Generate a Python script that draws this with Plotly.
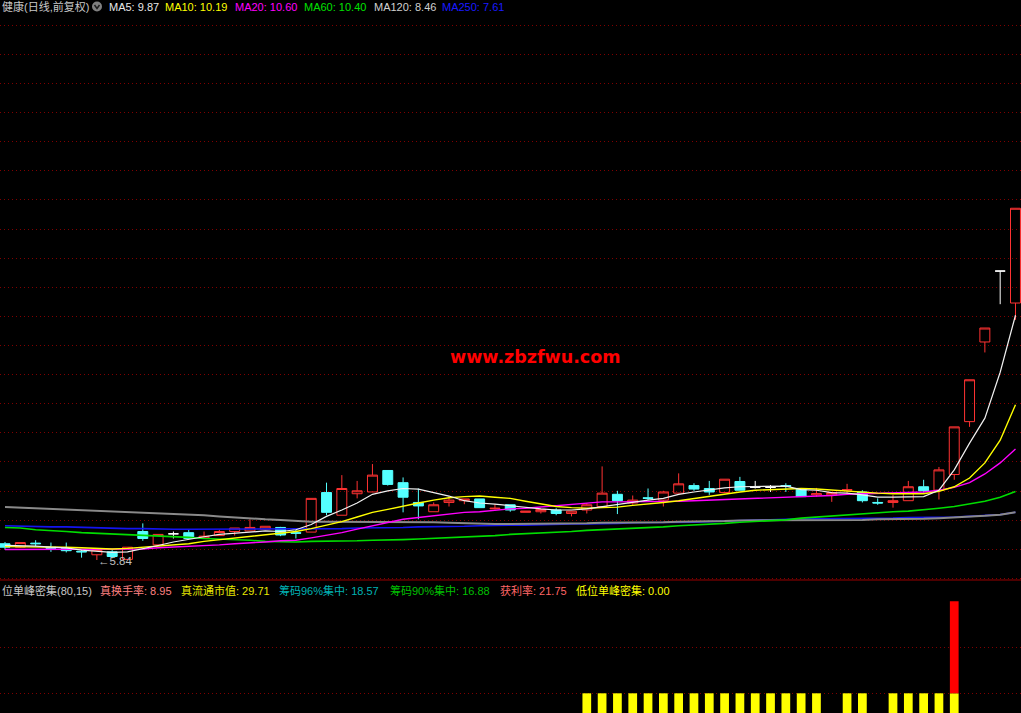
import plotly.graph_objects as go

# ---------------- data ----------------
days = list(range(67))

opens = [6.12, 6.06, 6.13, 6.06, 6.04, 5.99, 5.93, 5.98, 5.85, 6.33,
         6.10, 6.29, 6.31, 6.22, 6.26, 6.33, 6.34, 6.37, 6.40, 6.31,
         6.32, 7.00, 6.61, 6.98, 7.01, 7.38, 7.17, 6.83, 6.67, 6.83,
         6.86, 6.89, 6.72, 6.79, 6.66, 6.67, 6.70, 6.64, 6.70, 6.76,
         6.97, 6.82, 6.91, 6.87, 6.99, 7.12, 7.07, 7.00, 7.19, 7.09,
         7.09, 7.12, 7.07, 6.96, 6.96, 7.04, 7.01, 6.83, 6.83, 6.86,
         7.10, 7.04, 7.31, 8.22, 9.59, 10.81, 10.26]
highs = [6.15, 6.14, 6.18, 6.14, 6.14, 6.02, 6.02, 6.01, 6.06, 6.47,
         6.28, 6.33, 6.36, 6.33, 6.36, 6.39, 6.54, 6.42, 6.41, 6.36,
         6.90, 7.17, 7.30, 7.20, 7.49, 7.38, 7.26, 7.07, 6.83, 6.93,
         6.89, 6.89, 6.80, 6.79, 6.68, 6.71, 6.73, 6.68, 6.82, 7.45,
         7.03, 6.95, 7.07, 7.03, 7.33, 7.16, 7.20, 7.23, 7.27, 7.20,
         7.13, 7.16, 7.07, 7.08, 7.00, 7.15, 7.04, 6.90, 6.96, 7.20,
         7.22, 7.44, 8.13, 8.94, 9.83, 10.81, 11.89]
lows = [6.02, 6.05, 6.08, 5.98, 5.97, 5.88, 5.84, 5.87, 5.85, 6.17,
        6.10, 6.21, 6.21, 6.22, 6.26, 6.26, 6.34, 6.37, 6.25, 6.21,
        6.32, 6.61, 6.61, 6.90, 7.01, 7.12, 6.66, 6.54, 6.67, 6.76,
        6.80, 6.74, 6.71, 6.67, 6.66, 6.64, 6.61, 6.59, 6.64, 6.76,
        6.63, 6.79, 6.87, 6.76, 6.99, 7.03, 6.96, 7.00, 7.04, 7.07,
        7.01, 7.01, 6.93, 6.93, 6.84, 6.97, 6.83, 6.79, 6.74, 6.86,
        7.00, 6.88, 7.22, 8.13, 9.41, 10.24, 9.97]
closes = [6.06, 6.14, 6.12, 6.04, 6.00, 5.98, 6.02, 5.90, 6.06, 6.21,
          6.28, 6.29, 6.21, 6.25, 6.33, 6.39, 6.40, 6.42, 6.27, 6.30,
          6.90, 6.66, 7.07, 7.03, 7.30, 7.14, 6.92, 6.77, 6.79, 6.87,
          6.89, 6.74, 6.73, 6.70, 6.68, 6.71, 6.64, 6.68, 6.79, 6.99,
          6.86, 6.87, 6.90, 7.01, 7.15, 7.06, 7.01, 7.23, 7.04, 7.09,
          7.09, 7.11, 6.93, 6.98, 7.00, 7.05, 6.86, 6.82, 6.86, 7.10,
          7.03, 7.39, 8.13, 8.94, 9.83, 10.81, 11.89]
# u = rising (red hollow), d = falling (cyan solid), f = flat (white)
kinds = ['d', 'u', 'd', 'd', 'd', 'd', 'u', 'd', 'u', 'd',
         'u', 'f', 'd', 'u', 'u', 'u', 'u', 'u', 'd', 'd',
         'u', 'd', 'u', 'u', 'u', 'd', 'd', 'd', 'u', 'u',
         'u', 'd', 'u', 'd', 'u', 'u', 'd', 'u', 'u', 'u',
         'd', 'u', 'd', 'u', 'u', 'd', 'd', 'u', 'd', 'f',
         'f', 'd', 'd', 'u', 'u', 'u', 'd', 'd', 'u', 'u',
         'd', 'u', 'u', 'u', 'u', 'f', 'u']

ma5 = [6.09, 6.09, 6.08, 6.06, 6.05, 6.01, 5.99, 5.97, 5.98, 6.03,
       6.09, 6.15, 6.20, 6.24, 6.28, 6.30, 6.33, 6.34, 6.33, 6.36,
       6.45, 6.59, 6.70, 6.82, 6.97, 7.03, 7.07, 7.06, 7.00, 6.94,
       6.86, 6.82, 6.80, 6.77, 6.74, 6.72, 6.70, 6.70, 6.72, 6.76,
       6.80, 6.84, 6.87, 6.90, 6.97, 7.01, 7.05, 7.08, 7.10, 7.10,
       7.10, 7.11, 7.05, 7.04, 7.00, 6.99, 6.96, 6.92, 6.92, 6.92,
       6.93, 7.04, 7.39, 7.85, 8.28, 9.07, 10.05]
ma10 = [6.07, 6.07, 6.07, 6.06, 6.06, 6.05, 6.04, 6.03, 6.04, 6.06,
        6.08, 6.11, 6.12, 6.16, 6.19, 6.22, 6.24, 6.27, 6.30, 6.33,
        6.38, 6.44, 6.50, 6.58, 6.66, 6.71, 6.77, 6.82, 6.87, 6.91,
        6.93, 6.94, 6.92, 6.90, 6.85, 6.80, 6.76, 6.74, 6.73, 6.74,
        6.75, 6.78, 6.80, 6.83, 6.86, 6.90, 6.93, 6.98, 7.01, 7.04,
        7.05, 7.06, 7.07, 7.06, 7.04, 7.02, 7.00, 6.99, 6.98, 6.98,
        6.98, 7.02, 7.10, 7.25, 7.51, 7.90, 8.51]
ma20 = [6.02, 6.02, 6.02, 6.02, 6.02, 6.02, 6.02, 6.02, 6.02, 6.03,
        6.05, 6.06, 6.07, 6.08, 6.10, 6.12, 6.13, 6.15, 6.17, 6.18,
        6.22, 6.26, 6.31, 6.37, 6.43, 6.49, 6.54, 6.57, 6.60, 6.63,
        6.66, 6.67, 6.70, 6.72, 6.73, 6.75, 6.77, 6.79, 6.81, 6.84,
        6.84, 6.84, 6.84, 6.85, 6.85, 6.86, 6.87, 6.88, 6.89, 6.89,
        6.90, 6.91, 6.92, 6.93, 6.95, 6.97, 6.98, 6.99, 7.00, 7.00,
        7.01, 7.04, 7.09, 7.17, 7.32, 7.51, 7.75]
ma60 = [6.40, 6.39, 6.36, 6.35, 6.33, 6.31, 6.30, 6.28, 6.27, 6.27,
        6.25, 6.24, 6.23, 6.21, 6.20, 6.20, 6.18, 6.16, 6.15, 6.15,
        6.16, 6.16, 6.17, 6.17, 6.18, 6.18, 6.19, 6.20, 6.21, 6.22,
        6.23, 6.24, 6.26, 6.28, 6.29, 6.30, 6.31, 6.33, 6.35, 6.36,
        6.37, 6.38, 6.40, 6.41, 6.43, 6.44, 6.45, 6.47, 6.49, 6.50,
        6.51, 6.53, 6.56, 6.58, 6.60, 6.61, 6.63, 6.65, 6.67, 6.68,
        6.70, 6.73, 6.76, 6.80, 6.85, 6.92, 7.02]
ma120 = [6.75, 6.74, 6.73, 6.72, 6.71, 6.70, 6.69, 6.68, 6.67, 6.65,
         6.64, 6.64, 6.63, 6.61, 6.59, 6.57, 6.55, 6.54, 6.53, 6.51,
         6.50, 6.50, 6.50, 6.49, 6.49, 6.49, 6.49, 6.49, 6.49, 6.48,
         6.47, 6.46, 6.46, 6.46, 6.46, 6.46, 6.46, 6.47, 6.47, 6.48,
         6.48, 6.49, 6.49, 6.49, 6.50, 6.50, 6.51, 6.51, 6.52, 6.52,
         6.53, 6.53, 6.53, 6.53, 6.53, 6.53, 6.53, 6.54, 6.54, 6.55,
         6.55, 6.56, 6.57, 6.58, 6.60, 6.62, 6.66]
ma250 = [6.43, 6.42, 6.42, 6.41, 6.41, 6.40, 6.39, 6.39, 6.38, 6.38,
         6.37, 6.37, 6.37, 6.37, 6.37, 6.37, 6.37, 6.37, 6.37, 6.37,
         6.37, 6.37, 6.38, 6.39, 6.39, 6.40, 6.40, 6.41, 6.41, 6.42,
         6.42, 6.43, 6.44, 6.44, 6.44, 6.45, 6.45, 6.46, 6.46, 6.46,
         6.47, 6.48, 6.48, 6.48, 6.49, 6.49, 6.50, 6.51, 6.52, 6.52,
         6.53, 6.54, 6.55, 6.55, 6.55, 6.55, 6.56, 6.56, 6.56, 6.57,
         6.57, 6.57, 6.58, 6.59, 6.60, 6.62, 6.66]

# lower indicator panel
signal_low = [0, 0, 0, 0, 0, 0, 0, 0, 0, 0,
              0, 0, 0, 0, 0, 0, 0, 0, 0, 0,
              0, 0, 0, 0, 0, 0, 0, 0, 0, 0,
              0, 0, 0, 0, 0, 0, 0, 0, 1, 1,
              1, 1, 1, 1, 1, 1, 1, 1, 1, 1,
              1, 1, 1, 1, 0, 1, 1, 0, 1, 1,
              1, 1, 1, 0, 0, 0, 0]
signal_peak = [0, 0, 0, 0, 0, 0, 0, 0, 0, 0,
               0, 0, 0, 0, 0, 0, 0, 0, 0, 0,
               0, 0, 0, 0, 0, 0, 0, 0, 0, 0,
               0, 0, 0, 0, 0, 0, 0, 0, 0, 0,
               0, 0, 0, 0, 0, 0, 0, 0, 0, 0,
               0, 0, 0, 0, 0, 0, 0, 0, 0, 0,
               0, 0, 2, 0, 0, 0, 0]

title_text = "健康(日线,前复权)"
ma_labels = [("MA5: 9.87", "#e8e8e8"), ("MA10: 10.19", "#ffff00"),
             ("MA20: 10.60", "#ff00ff"), ("MA60: 10.40", "#00e000"),
             ("MA120: 8.46", "#d0d0d0"), ("MA250: 7.61", "#1a1aff")]
ind_labels = [("位单峰密集(80,15)", "#c8c8c8"), ("真换手率: 8.95", "#ff8080"),
              ("真流通市值: 29.71", "#e8e800"), ("筹码96%集中: 18.57", "#00b4b4"),
              ("筹码90%集中: 16.88", "#00c000"), ("获利率: 21.75", "#ff6666"),
              ("低位单峰密集: 0.00", "#ffff00")]
low_label = "←5.84"
watermark = "www.zbzfwu.com"

# ---------------- figure ----------------
W, H = 1021, 713
def px(x):
    return x / W
def py(y):
    return 1 - y / H

fig = go.Figure()

RED = "#ff3232"
CYAN = "#54ffff"
WHITE = "#ffffff"
TRANSP = "rgba(0,0,0,0)"

styles = {'u': (RED, TRANSP), 'd': (CYAN, CYAN), 'f': (WHITE, WHITE)}
for kind in ['u', 'd', 'f']:
    idx = [i for i, k in enumerate(kinds) if k == kind]
    lc, fc = styles[kind]
    fig.add_trace(go.Candlestick(
        x=[days[i] for i in idx],
        open=[opens[i] for i in idx], high=[highs[i] for i in idx],
        low=[lows[i] for i in idx], close=[closes[i] for i in idx],
        increasing=dict(line=dict(color=lc, width=1), fillcolor=fc),
        decreasing=dict(line=dict(color=lc, width=1), fillcolor=fc),
        whiskerwidth=0, xaxis='x', yaxis='y', showlegend=False, hoverinfo='skip'))

for vals, col, w in [(ma250, "#1414f0", 1.6), (ma120, "#8a8a8a", 2.0), (ma60, "#00dd00", 1.6),
                     (ma20, "#ff00ff", 1.4), (ma10, "#ffff00", 1.4), (ma5, "#f0f0f0", 1.2)]:
    fig.add_trace(go.Scatter(x=days, y=vals, mode='lines', line=dict(color=col, width=w),
                             xaxis='x', yaxis='y', showlegend=False, hoverinfo='skip'))

fig.add_trace(go.Bar(x=days, y=signal_low, base=0, width=0.57, marker=dict(color="#ffff00", line=dict(width=0)),
                     xaxis='x2', yaxis='y2', showlegend=False, hoverinfo='skip'))
fig.add_trace(go.Bar(x=days, y=signal_peak, base=signal_low, width=0.57, marker=dict(color="#ff0000", line=dict(width=0)),
                     xaxis='x2', yaxis='y2', showlegend=False, hoverinfo='skip'))

GRID = "#800000"
xr = [-0.327, 66.36]
fig.update_layout(
    width=W, height=H, margin=dict(l=0, r=0, t=0, b=0),
    paper_bgcolor="#000000", plot_bgcolor="#000000",
    showlegend=False, hovermode=False, barmode='overlay',
    boxgap=0.35, boxgroupgap=0,
    xaxis=dict(domain=[0, 1], range=xr, visible=False, rangeslider=dict(visible=False), anchor='y'),
    yaxis=dict(domain=[1 - 581 / H, 1], range=[5.4788, 15.472], showticklabels=False, ticks='',
               showgrid=True, gridcolor=GRID, gridwidth=1, griddash='1px,3px',
               tick0=6.024, dtick=0.5007, zeroline=False, showline=False, anchor='x'),
    xaxis2=dict(domain=[0, 1], range=xr, visible=False, anchor='y2'),
    yaxis2=dict(domain=[0, 1 - 583 / H], range=[0.572, 3.398], showticklabels=False, ticks='',
                tickvals=[1, 2], showgrid=True, gridcolor=GRID, gridwidth=1, griddash='1px,3px',
                zeroline=False, showline=False, anchor='x2'),
)

# panel separator
fig.add_shape(type='line', xref='paper', yref='paper', x0=0, x1=1, y0=py(580), y1=py(580),
              line=dict(color="#9a0000", width=1))
# dropdown icon
fig.add_shape(type='circle', xref='paper', yref='paper', x0=px(92), x1=px(102), y0=py(11.5), y1=py(1.5),
              fillcolor="#808080", line=dict(width=0))
fig.add_shape(type='path', xref='paper', yref='paper',
              path=f"M {px(94.5)} {py(5)} L {px(97)} {py(8.5)} L {px(99.5)} {py(5)}",
              line=dict(color="#1e1e1e", width=1.5))

FONT = "Liberation Sans, Noto Sans CJK SC, sans-serif"
ann = []
ann.append(dict(x=px(0), y=py(7), text=title_text, font=dict(family=FONT, size=11, color="#c8c8c8")))
for (t, c), x in zip(ma_labels, [107, 163, 233, 302, 372, 440]):
    ann.append(dict(x=px(x), y=py(7), text=t, font=dict(family=FONT, size=11, color=c)))
for (t, c), x in zip(ind_labels, [0, 98, 178.6, 276.8, 387.5, 497.8, 573.7]):
    ann.append(dict(x=px(x), y=py(590), text=t, font=dict(family=FONT, size=11, color=c)))
ann.append(dict(x=px(96), y=py(561), text=low_label, font=dict(family=FONT, size=11.5, color="#c0c0c0")))
for a in ann:
    a.update(xref='paper', yref='paper', xanchor='left', yanchor='middle', showarrow=False)
ann.append(dict(x=px(534.7), y=py(357), xref='paper', yref='paper', xanchor='center', yanchor='middle',
                showarrow=False, text=f"<b>{watermark}</b>",
                font=dict(family="DejaVu Sans", size=17.5, color="#ff0000")))
fig.update_layout(annotations=ann)

fig.write_html("out.html", config={"displayModeBar": False},
               post_script="document.body.style.margin='0px';document.body.style.overflow='hidden';document.body.style.background='#000';")
